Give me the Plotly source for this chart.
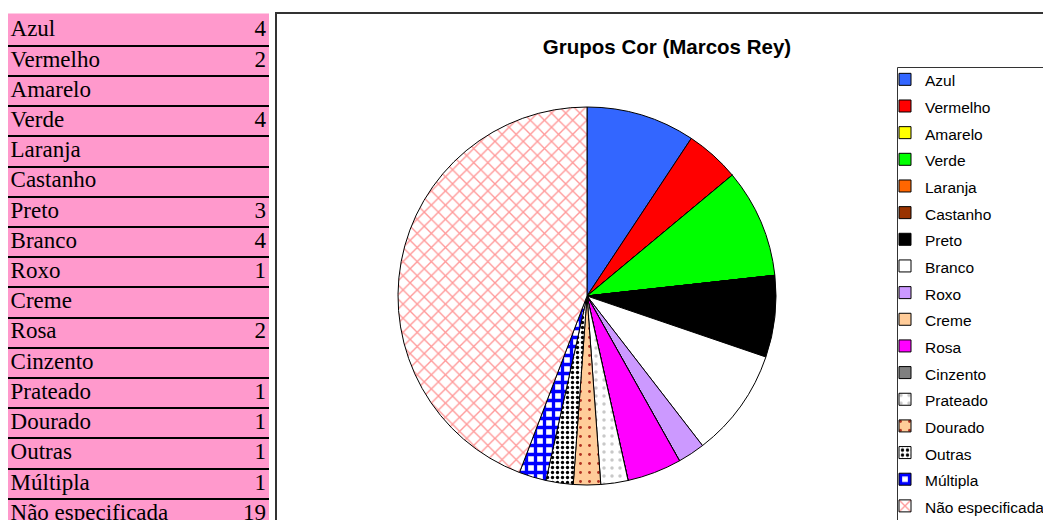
import plotly.graph_objects as go

W, H = 1043, 520

grupos = ["Azul", "Vermelho", "Amarelo", "Verde", "Laranja", "Castanho", "Preto",
          "Branco", "Roxo", "Creme", "Rosa", "Cinzento", "Prateado", "Dourado",
          "Outras", "Múltipla", "Não especificada"]
contagem = [4, 2, None, 4, None, None, 3, 4, 1, None, 2, None, 1, 1, 1, 1, 19]

cores = ["#3366FF", "#FF0000", "#FFFF00", "#00FF00", "#FF6600", "#993300", "#000000",
         "#FFFFFF", "#CC99FF", "#FFCC99", "#FF00FF", "#808080", "#FFFFFF", "#FFCC99",
         "#FFFFFF", "#FFFFFF", "#FFFFFF"]

# padrões (aproximação dos preenchimentos do Excel)
padrao = {
    "Prateado": dict(shape=".", fgcolor="#C8C8C8", size=8, solidity=0.15),
    "Dourado": dict(shape=".", fgcolor="#B03020", size=9, solidity=0.08),
    "Outras": dict(shape=".", fgcolor="#000000", size=5, solidity=0.35),
    "Múltipla": dict(shape="+", fgcolor="#0000FF", size=9, solidity=0.6),
    "Não especificada": dict(shape="x", fgcolor="#FF9999", size=10, solidity=0.25),
}
shapes_p = [padrao.get(g, {}).get("shape", "") for g in grupos]
fg_p = [padrao.get(g, {}).get("fgcolor", "#000000") for g in grupos]
size_p = [padrao.get(g, {}).get("size", 8) for g in grupos]
sol_p = [padrao.get(g, {}).get("solidity", 0.3) for g in grupos]

fig = go.Figure()

# tabela da esquerda
ylinhas = list(range(len(grupos)))
fig.add_trace(go.Scatter(
    x=[0] * len(grupos), y=ylinhas, mode="text", text=grupos,
    textposition="middle right", showlegend=False, hoverinfo="skip",
    textfont=dict(family="Liberation Serif", size=23, color="#000000"),
))
fig.add_trace(go.Scatter(
    x=[1] * len(grupos), y=ylinhas, mode="text",
    text=["" if c is None else str(c) for c in contagem],
    textposition="middle left", showlegend=False, hoverinfo="skip",
    textfont=dict(family="Liberation Serif", size=23, color="#000000"),
))

# grafico circular
fig.add_trace(go.Pie(
    labels=[f"<span style='font-size:15.5px'>{g}</span>" for g in grupos],
    values=[0 if c is None else c for c in contagem],
    sort=False, direction="clockwise", rotation=0,
    textinfo="none", hoverinfo="label+value",
    marker=dict(colors=cores, line=dict(color="#000000", width=1),
                pattern=dict(shape=shapes_p, fgcolor=fg_p, bgcolor=cores,
                             size=size_p, solidity=sol_p, fillmode="replace")),
    domain=dict(x=[398 / W, 776 / W], y=[1 - 485 / H, 1 - 107 / H]),
))

fig.update_xaxes(domain=[8 / W, 269 / W], range=[-0.01, 1.012], showgrid=False,
                 zeroline=False, showticklabels=False, fixedrange=True)
fig.update_yaxes(domain=[0, 1 - 13.5 / H], range=[16.2, -0.57],
                 tickvals=[i + 0.5 for i in ylinhas[:-1]], showticklabels=False,
                 showgrid=True, gridcolor="#000000", gridwidth=2, zeroline=False,
                 ticks="", fixedrange=True)

# moldura da area do grafico e da legenda
fig.add_shape(type="rect", xref="paper", yref="paper",
              x0=276 / W, x1=1.2, y0=-0.2, y1=1 - 13 / H,
              line=dict(color="#333333", width=2), layer="below")
fig.add_shape(type="rect", xref="paper", yref="paper",
              x0=897.5 / W, x1=1.2, y0=-0.2, y1=1 - 67.5 / H,
              line=dict(color="#333333", width=1), layer="below")

fig.update_layout(
    width=W, height=H,
    margin=dict(l=0, r=0, t=0, b=0, autoexpand=False),
    paper_bgcolor="#FFFFFF", plot_bgcolor="#FF99CC",
    title=dict(text="<b>Grupos Cor (Marcos Rey)</b>", x=667 / W, y=1 - 47 / H,
               xanchor="center", yanchor="middle", xref="paper", yref="paper",
               font=dict(family="Liberation Sans", size=20.5, color="#000000")),
    legend=dict(x=885 / W, y=1 - 61 / H, xanchor="left", yanchor="top",
                bgcolor="rgba(0,0,0,0)", borderwidth=0,
                itemwidth=30, traceorder="normal",
                font=dict(family="Liberation Sans", size=18.2, color="#000000")),
    showlegend=True,
)

fig.write_html("out.html", config={"displayModeBar": False},
               post_script="document.body.style.margin='0';")
